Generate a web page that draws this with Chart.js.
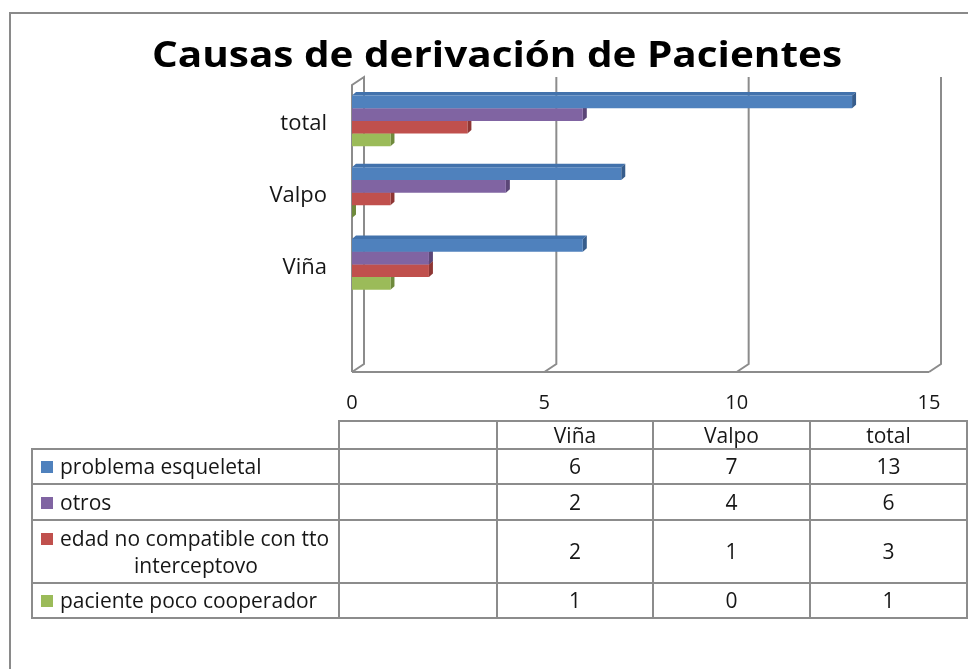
<!DOCTYPE html>
<html><head><meta charset="utf-8">
<script src="https://cdn.jsdelivr.net/npm/chart.js@4.4.1/dist/chart.umd.min.js"></script>
<style>
html,body{margin:0;padding:0;background:#fff;}
body{width:968px;height:669px;overflow:hidden;position:relative;font-family:"Open Sans",Lato,sans-serif;color:#161616;}
#frame{position:absolute;left:9px;top:12px;width:1000px;height:700px;border:2px solid #8a8a8a;box-sizing:border-box;}
#title{position:absolute;top:36px;left:497px;font-weight:bold;font-size:36px;line-height:36px;color:#000;white-space:nowrap;transform-origin:0 0;}
#wrap{position:absolute;left:0;top:0;width:968px;height:669px;}
.ln{position:absolute;background:#8c8c8c;}
.cell{position:absolute;display:flex;align-items:center;justify-content:center;font-size:21px;line-height:27px;}
.lg{position:absolute;font-size:21px;line-height:27px;white-space:nowrap;}
.sq{position:absolute;width:12px;height:12px;}
</style></head>
<body>
<div id="frame"></div>
<div id="wrap"><canvas id="c" width="968" height="669"></canvas></div>
<div id="title">Causas de derivación de Pacientes</div>
<div id="tbl"></div>
<script>
// ---- data ----
const categories = ['Viña', 'Valpo', 'total'];
const seriesNames = ['problema esqueletal', 'otros', 'edad no compatible con tto interceptovo', 'paciente poco cooperador'];
const problemaEsqueletal = [6, 7, 13];
const otros = [2, 4, 6];
const edadNoCompatible = [2, 1, 3];
const pacientePocoCooperador = [1, 0, 1];
const xTicks = [0, 5, 10, 15];

const seriesValues = [problemaEsqueletal, otros, edadNoCompatible, pacientePocoCooperador];
const frontColors = ['#4F81BD', '#8064A2', '#C0504D', '#9BBB59'];
const sideColors  = ['#375D8C', '#5B4677', '#8E3634', '#6F8A3C'];
const topColors   = ['#4272AC', '#71578F', '#A94442', '#88A64C'];

// chart labels: top category first, plus an empty spacer category at bottom
const chartLabels = categories.slice().reverse().concat(['']);

// title: stretch horizontally to the reference width, centred
const meas = document.createElement('canvas').getContext('2d');
(function () {
  const t = document.getElementById('title');
  meas.font = 'bold 36px "Open Sans"';
  const w = meas.measureText(t.textContent).width;
  const target = 690;
  const s = target / w;
  t.style.transform = 'translateX(' + (-target / 2) + 'px) scaleX(' + s + ')';
})();

const walls = {
  id: 'walls',
  beforeDatasetsDraw(c) {
    const { ctx, chartArea: a, scales: { x } } = c;
    const dx = 12, dy = 8;
    ctx.save();
    ctx.strokeStyle = '#8c8c8c';
    ctx.lineWidth = 2;
    ctx.beginPath();
    ctx.moveTo(a.left, a.bottom); ctx.lineTo(a.left, a.top);
    ctx.lineTo(a.left + dx, a.top - dy); ctx.lineTo(a.left + dx, a.bottom - dy);
    ctx.lineTo(a.left, a.bottom);
    ctx.stroke();
    ctx.beginPath(); ctx.moveTo(a.left, a.bottom); ctx.lineTo(a.right, a.bottom); ctx.stroke();
    xTicks.forEach(v => {
      if (v === 0) return;
      const px = x.getPixelForValue(v);
      ctx.beginPath();
      ctx.moveTo(px, a.bottom); ctx.lineTo(px + dx, a.bottom - dy); ctx.lineTo(px + dx, a.top - dy);
      ctx.stroke();
    });
    // 3D faces of bars (drawn behind front faces)
    const d = 4, e = 3.5;
    for (let i = c.data.datasets.length - 1; i >= 0; i--) {
      const ds = c.data.datasets[i];
      c.getDatasetMeta(i).data.forEach((el, j) => {
        if (ds.data[j] == null) return;
        const p = el.getProps(['x', 'y', 'base', 'height'], true);
        const t = p.y - p.height / 2, b = p.y + p.height / 2;
        ctx.fillStyle = topColors[i];
        ctx.beginPath();
        ctx.moveTo(p.base, t); ctx.lineTo(p.base + d, t - e); ctx.lineTo(p.x + d, t - e); ctx.lineTo(p.x, t);
        ctx.closePath(); ctx.fill();
        ctx.fillStyle = sideColors[i];
        ctx.beginPath();
        ctx.moveTo(p.x, t); ctx.lineTo(p.x + d, t - e); ctx.lineTo(p.x + d, b - e); ctx.lineTo(p.x, b);
        ctx.closePath(); ctx.fill();
      });
    }
    ctx.restore();
  }
};

new Chart(document.getElementById('c'), {
  type: 'bar',
  data: {
    labels: chartLabels,
    datasets: seriesNames.map((n, i) => ({
      label: n,
      data: seriesValues[i].slice().reverse().concat([null]),
      backgroundColor: frontColors[i],
      borderWidth: 0,
      barPercentage: 1,
      categoryPercentage: 0.71
    }))
  },
  options: {
    indexAxis: 'y',
    responsive: false,
    animation: false,
    layout: { padding: { left: 0, top: 85, right: 39, bottom: 247 } },
    plugins: { legend: { display: false }, tooltip: { enabled: false }, title: { display: false } },
    scales: {
      x: {
        min: 0, max: 15,
        afterBuildTicks: s => { s.ticks = xTicks.map(v => ({ value: v })); },
        ticks: { color: '#161616', font: { family: 'Open Sans', size: 20 }, padding: 11, maxRotation: 0 },
        grid: { display: false }, border: { display: false },
        afterFit: s => { s.height = 50; }
      },
      y: {
        ticks: { color: '#161616', font: { family: 'Open Sans', size: 22 }, padding: 17, labelOffset: 3 },
        grid: { display: false }, border: { display: false },
        afterFit: s => { s.width = 352; }
      }
    }
  },
  plugins: [walls]
});

// ---- data table ----
const tbl = document.getElementById('tbl');
const colX = [32, 339, 497, 653, 810, 967];
const rowY = [421, 449, 484, 520, 583, 618];
function line(x, y, w, h) { const l = document.createElement('div'); l.className = 'ln'; Object.assign(l.style, { left: x + 'px', top: y + 'px', width: w + 'px', height: h + 'px' }); tbl.appendChild(l); }
function cell(x0, x1, y0, y1, txt) { const c = document.createElement('div'); c.className = 'cell'; Object.assign(c.style, { left: x0 + 'px', top: y0 + 'px', width: (x1 - x0) + 'px', height: (y1 - y0) + 'px' }); c.textContent = txt; tbl.appendChild(c); }
line(colX[1] - 1, rowY[0] - 1, colX[5] - colX[1] + 2, 2);
for (let r = 1; r < rowY.length; r++) line(colX[0] - 1, rowY[r] - 1, colX[5] - colX[0] + 2, 2);
line(colX[0] - 1, rowY[1] - 1, 2, rowY[5] - rowY[1] + 2);
for (let k = 1; k < colX.length; k++) line(colX[k] - 1, rowY[0] - 1, 2, rowY[5] - rowY[0] + 2);
categories.forEach((cat, k) => cell(colX[k + 2], colX[k + 3], rowY[0], rowY[1], cat));
meas.font = '21px "Open Sans"';
seriesNames.forEach((n, i) => {
  const y0 = rowY[i + 1], y1 = rowY[i + 2];
  const sq = document.createElement('div'); sq.className = 'sq';
  sq.style.background = frontColors[i];
  const maxW = 278, words = n.split(' '), lines = [];
  let cur = '';
  words.forEach(w => { const t = cur ? cur + ' ' + w : w; if (meas.measureText(t).width > maxW && cur) { lines.push(cur); cur = w; } else cur = t; });
  lines.push(cur);
  const lh = 27, blockH = lines.length * lh, top = (y0 + y1) / 2 - blockH / 2;
  lines.forEach((ln, li) => {
    const d = document.createElement('div'); d.className = 'lg';
    d.textContent = ln;
    d.style.left = '60px';
    if (li > 0) { d.style.width = '272px'; d.style.textAlign = 'center'; }
    d.style.top = (top + li * lh) + 'px';
    tbl.appendChild(d);
  });
  sq.style.left = '41px'; sq.style.top = (top + 8) + 'px';
  tbl.appendChild(sq);
  seriesValues[i].forEach((v, k) => cell(colX[k + 2], colX[k + 3], y0, y1, String(v)));
});
</script>
</body></html>
